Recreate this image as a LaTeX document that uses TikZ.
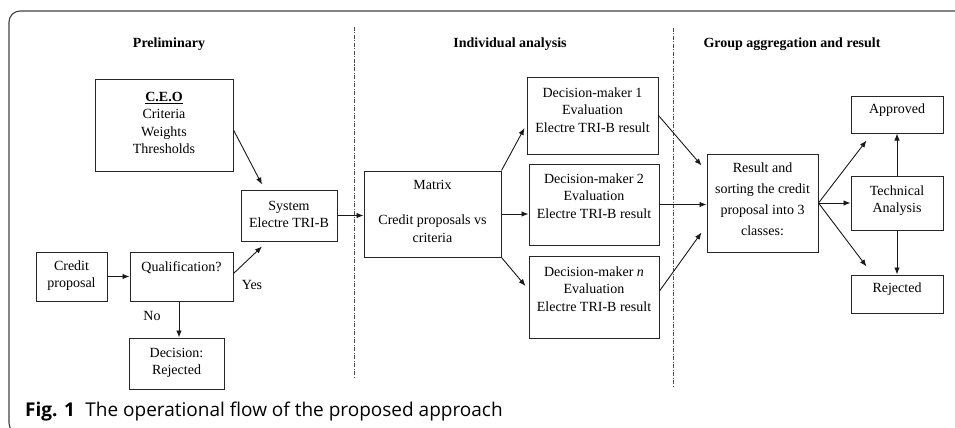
\documentclass[tikz,border=0pt]{standalone}
\usepackage{fontspec}
\setmainfont{Liberation Serif}
\newfontfamily\capfont{Open Sans}
\usetikzlibrary{arrows.meta,calc}
\begin{document}
\begin{tikzpicture}[x=1pt,y=-1pt,
  box/.style={draw=black!85,line width=1pt,inner sep=0pt,rectangle},
  txt/.style={align=center,inner sep=0pt,font=\fontsize{14}{17.5}\selectfont},
  head/.style={inner sep=0pt,font=\fontsize{14}{17}\selectfont\bfseries},
  arr/.style={draw=black!90,line width=0.9pt,-{Latex[length=7pt,width=5.5pt]}},
  divider/.style={draw=black!70,line width=0.7pt,dash pattern=on 4pt off 1.5pt on 1pt off 1.5pt}]
\useasboundingbox (0,0) rectangle (955,428);
% frame
\draw[black!75,line width=1.1pt,rounded corners=11pt] (965,11) -- (9,11) -- (9,434) -- (40,434);
% headings
\node[head] (h1) at (169,44) {Preliminary};
\node[head] (h2) at (510,44) {Individual analysis};
\node[head] (h3) at (792,44) {Group aggregation and result};
% dividers
\coordinate (d1a) at (354,27); \coordinate (d1b) at (354,378);
\coordinate (d2a) at (673,28); \coordinate (d2b) at (673,387);
\draw[divider] (d1a) -- (d1b);
\draw[divider] (d2a) -- (d2b);
% boxes
\node[box,minimum width=138pt,minimum height=92pt] (ceo) at (164,125) {};
\node[txt] (ceot) at (164,123) {\underline{\textbf{C.E.O}}\\Criteria\\Weights\\Thresholds};
\node[box,minimum width=96pt,minimum height=51pt] (sys) at (289,215.5) {};
\node[txt] (syst) at (289,214.5) {System\\Electre TRI-B};
\node[box,minimum width=71pt,minimum height=49pt] (cp) at (71.5,276.5) {};
\node[txt] (cpt) at (71.5,275.5) {Credit\\proposal};
\node[box,minimum width=103pt,minimum height=49pt] (qual) at (181.5,276.5) {};
\node[txt] (qualt) at (181.5,268) {Qualification?};
\node[box,minimum width=95pt,minimum height=51pt] (rej1) at (176.5,363.5) {};
\node[txt] (rej1t) at (176.5,363) {Decision:\\Rejected};
\node[box,minimum width=137pt,minimum height=86pt] (mat) at (432.5,214) {};
\node[txt] (matt1) at (432.5,185) {Matrix};
\node[txt] (matt2) at (432.5,228.5) {Credit proposals vs\\criteria};
\node[box,minimum width=131pt,minimum height=77pt] (dm1) at (592.5,115.5) {};
\node[txt] (dm1t) at (592.5,110) {Decision-maker 1\\Evaluation\\Electre TRI-B result};
\node[box,minimum width=130pt,minimum height=81pt] (dm2) at (594,204.5) {};
\node[txt] (dm2t) at (594,196) {Decision-maker 2\\Evaluation\\Electre TRI-B result};
\node[box,minimum width=130pt,minimum height=82pt] (dmn) at (594,297) {};
\node[txt] (dmnt) at (594,289) {Decision-maker \textit{n}\\Evaluation\\Electre TRI-B result};
\node[box,minimum width=111pt,minimum height=98pt] (res) at (762.5,203) {};
\node[txt,font=\fontsize{14}{21}\selectfont] (rest) at (762.5,199.5) {Result and\\sorting the credit\\proposal into 3\\classes:};
\node[box,minimum width=92pt,minimum height=37pt] (appr) at (897,114.5) {};
\node[txt] (apprt) at (897,110) {Approved};
\node[box,minimum width=92pt,minimum height=54pt] (tech) at (897,203) {};
\node[txt] (techt) at (897,200.5) {Technical\\Analysis};
\node[box,minimum width=92pt,minimum height=38pt] (rej2) at (897,294) {};
\node[txt] (rej2t) at (897,289) {Rejected};
% labels
\node[txt] (yes) at (252,285) {Yes};
\node[txt] (no) at (152,316) {No};
% arrows
\draw[arr] (cp.east) -- (qual.west);
\draw[arr] ([yshift=3pt]qual.east) -- ([xshift=-27pt,yshift=-5pt]sys.south);
\draw[arr] ([yshift=-5pt]ceo.east) -- ([xshift=-27pt,yshift=5pt]sys.north);
\draw[arr] ([xshift=-2.5pt]qual.south) -- ([xshift=-2.5pt]qual.south |- rej1.north);
\draw[arr] (sys.east) -- (sys.east -| mat.west);
\draw[arr] (mat.north east) -- ([xshift=-2pt,yshift=-12.5pt]dm1.west);
\draw[arr] (mat.east) -- (mat.east -| dm2.west);
\draw[arr] (mat.south east) -- ([xshift=-3pt,yshift=11pt]dmn.west);
\draw[arr] (dm1.east) -- ([xshift=-5pt,yshift=-12pt]res.north west);
\draw[arr] (dm2.east) -- (dm2.east -| res.west);
\draw[arr] ([yshift=6pt]dmn.east) -- ([xshift=-5pt,yshift=20pt]res.south west);
\draw[arr] (res.east) -- ([xshift=16pt,yshift=-7pt]appr.south west);
\draw[arr] (res.east) -- (res.east -| tech.west);
\draw[arr] (res.east) -- ([xshift=16pt,yshift=8pt]rej2.north west);
\draw[arr] (tech.north) -- (appr.south);
\draw[arr] (tech.south) -- (rej2.north);
% caption
\node[anchor=base west,inner sep=0pt,font=\capfont\fontsize{19}{22}\selectfont] (cap) at (25,416) {\textbf{Fig. 1}\hspace{0.55em}The operational flow of the proposed approach};
\end{tikzpicture}
\end{document}
